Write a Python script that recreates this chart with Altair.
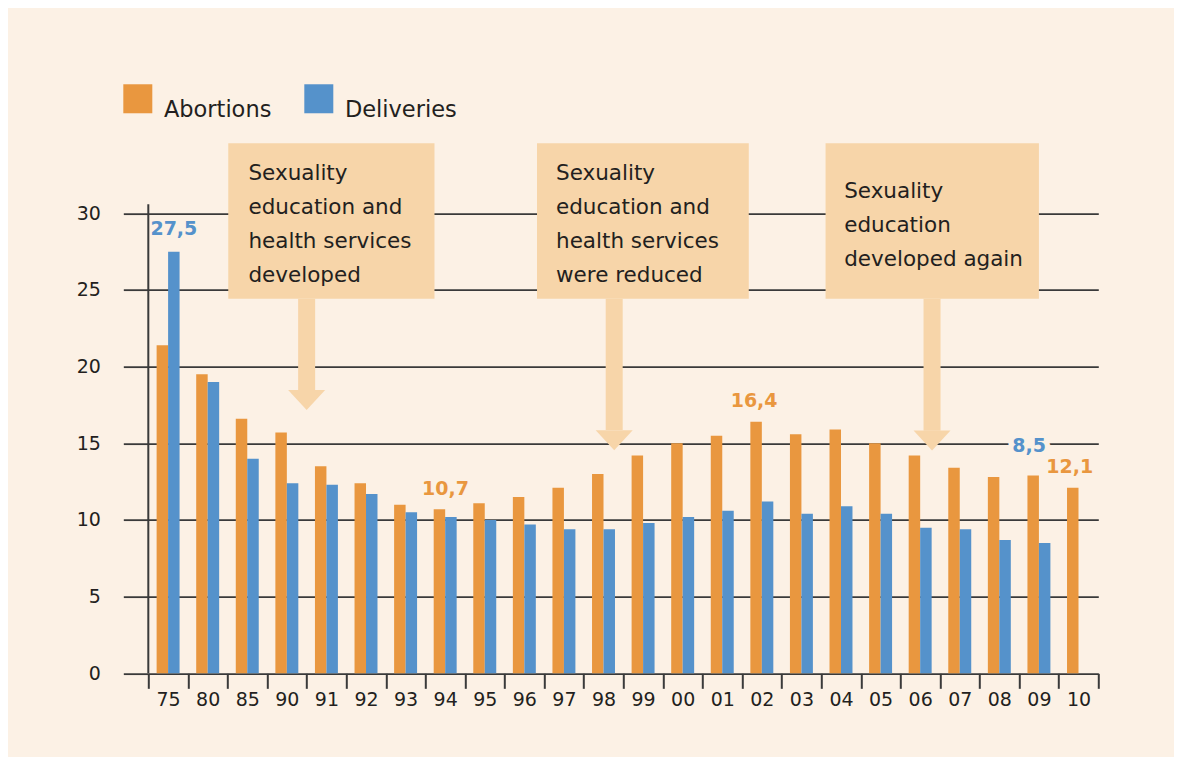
import altair as alt
import pandas as pd

# ---------------- data ----------------
years = ["75", "80", "85", "90", "91", "92", "93", "94", "95", "96", "97", "98",
         "99", "00", "01", "02", "03", "04", "05", "06", "07", "08", "09", "10"]
abortions = [21.4, 19.5, 16.6, 15.7, 13.5, 12.4, 11.0, 10.7, 11.1, 11.5, 12.1, 13.0,
             14.2, 15.0, 15.5, 16.4, 15.6, 15.9, 15.0, 14.2, 13.4, 12.8, 12.9, 12.1]
deliveries = [27.5, 19.0, 14.0, 12.4, 12.3, 11.7, 10.5, 10.2, 10.0, 9.7, 9.4, 9.4,
              9.8, 10.2, 10.6, 11.2, 10.4, 10.9, 10.4, 9.5, 9.4, 8.7, 8.5, None]
series_names = ["Abortions", "Deliveries"]
series_colors = ["#E9973F", "#5592CB"]
y_ticks = [0, 5, 10, 15, 20, 25, 30]

value_labels = ["27,5", "10,7", "16,4", "8,5", "12,1"]
label_years = ["75", "94", "02", "09", "10"]
label_series = ["Deliveries", "Abortions", "Abortions", "Deliveries", "Abortions"]

box_texts = [
    ["Sexuality", "education and", "health services", "developed"],
    ["Sexuality", "education and", "health services", "were reduced"],
    ["Sexuality", "education", "developed again"],
]

rows = []
for yr, a, d in zip(years, abortions, deliveries):
    rows.append({"year": yr, "series": "Abortions", "value": a})
    if d is not None:
        rows.append({"year": yr, "series": "Deliveries", "value": d})
df = pd.DataFrame(rows)

# ---------------- style ----------------
BG = "#FCF1E5"
INK = "#231F20"
GRID = "#3A3A3A"
BOX = "#F7D5A9"
FONT = "DejaVu Sans"

PLOT_W = 958.4
BAND_W = 950
PLOT_H = 536.67

yscale = alt.Scale(domain=[0, 35], nice=False, zero=True)
xscale = alt.Scale(domain=years, range=[0, BAND_W], paddingInner=0, paddingOuter=0)
xoff_scale = alt.Scale(domain=series_names, paddingInner=0, paddingOuter=0.724)
qx = alt.Scale(domain=[0, 24], range=[0, BAND_W], nice=False, zero=False)

one = pd.DataFrame({"k": [0]})

# ---------------- bars ----------------
bars = alt.Chart(df).mark_bar().encode(
    x=alt.X("year:N", scale=xscale, sort=years,
            axis=alt.Axis(title=None, labelAngle=0, tickBand="extent", tickSize=15,
                          tickColor=GRID, tickWidth=2, domain=False, grid=False,
                          labelFontSize=19, labelFont=FONT, labelColor=INK,
                          labelPadding=2)),
    xOffset=alt.XOffset("series:N", scale=xoff_scale, sort=series_names),
    y=alt.Y("value:Q", scale=yscale,
            axis=alt.Axis(title=None, values=y_ticks, grid=True, gridColor=GRID,
                          gridWidth=1.8, tickSize=25, tickColor=GRID, tickWidth=1.8,
                          domain=False, labelPadding=23, labelFontSize=19,
                          labelFont=FONT, labelColor=INK)),
    color=alt.Color("series:N", sort=series_names,
                    scale=alt.Scale(domain=series_names, range=series_colors),
                    legend=alt.Legend(orient="none", legendX=-25, legendY=-52.4,
                                      direction="horizontal", title=None,
                                      symbolType="square", symbolSize=841,
                                      symbolStrokeWidth=0, symbolOpacity=1,
                                      labelFontSize=22.5, labelFont=FONT,
                                      labelColor=INK, labelOffset=11.6,
                                      labelBaseline="top",
                                      columnPadding=32, padding=0)),
)

# value labels: (anchor y in data units, dx in px)
label_place = [(29.0, 0), (12.0, 6), (17.78, -2), (14.85, -15.5), (13.44, -3)]
label_layers = []
for txt, yr, ser, (ypos, dx) in zip(value_labels, label_years, label_series, label_place):
    ldf = pd.DataFrame({"year": [yr], "series": [ser], "label": [txt]})
    col = series_colors[series_names.index(ser)]
    enc = dict(
        x=alt.X("year:N", scale=xscale, sort=years),
        xOffset=alt.XOffset("series:N", scale=xoff_scale, sort=series_names),
        y=alt.YDatum(ypos, scale=yscale),
        text="label:N",
    )
    halo = alt.Chart(ldf).mark_text(font=FONT, fontSize=19, fontWeight="bold",
                                    fill=BG, stroke=BG, strokeWidth=11,
                                    strokeJoin="round", baseline="middle",
                                    align="center", dx=dx).encode(**enc)
    txtl = alt.Chart(ldf).mark_text(font=FONT, fontSize=19, fontWeight="bold",
                                    color=col, baseline="middle", align="center",
                                    dx=dx).encode(**enc)
    label_layers += [halo, txtl]

bar_group = alt.layer(bars, *label_layers)

# ---------------- annotations (continuous x in band units) ----------------
box_place = [(2.02, 7.23), (9.82, 15.17), (17.11, 22.50)]
box_top, box_bottom = 34.57, 24.43
text_place = [(2.53, 32.17), (10.30, 32.17), (17.58, 30.98)]
arrow_place = [(4.00, 18.48, 17.83), (11.77, 15.87, 15.20), (19.80, 15.82, 15.19)]
head_path = "M-1,-0.54L1,-0.54L0,0.54Z"

annot_layers = []
for (x1, x2), lines, (tx, ty), (ax, hs, hc) in zip(box_place, box_texts, text_place, arrow_place):
    annot_layers.append(
        alt.Chart(one).mark_rect(color=BOX, opacity=1).encode(
            x=alt.XDatum(x1, scale=qx, axis=None), x2=alt.datum(x2),
            y=alt.YDatum(box_top, scale=yscale), y2=alt.datum(box_bottom))
    )
    annot_layers.append(
        alt.Chart(one).mark_text(font=FONT, fontSize=21.5, color=INK, align="left",
                                 baseline="alphabetic", lineHeight=34).encode(
            x=alt.XDatum(tx, scale=qx, axis=None),
            y=alt.YDatum(ty, scale=yscale),
            text=alt.value(lines))
    )
    annot_layers.append(
        alt.Chart(one).mark_rule(color=BOX, strokeWidth=17, opacity=1).encode(
            x=alt.XDatum(ax, scale=qx, axis=None),
            y=alt.YDatum(box_bottom, scale=yscale), y2=alt.datum(hs))
    )
    annot_layers.append(
        alt.Chart(one).mark_point(shape=head_path, filled=True, size=1369, color=BOX,
                                  opacity=1, strokeWidth=0).encode(
            x=alt.XDatum(ax, scale=qx, axis=None),
            y=alt.YDatum(hc, scale=yscale))
    )

# vertical axis line
annot_layers.append(
    alt.Chart(one).mark_rule(color=GRID, strokeWidth=2).encode(
        x=alt.XDatum(0, scale=qx, axis=None),
        y=alt.YDatum(30.6, scale=yscale), y2=alt.datum(0))
)

annot_group = alt.layer(*annot_layers)

chart = alt.layer(bar_group, annot_group).resolve_scale(x="independent").properties(
    width=PLOT_W, height=PLOT_H,
    autosize=alt.AutoSizeParams(type="none"),
    padding={"left": 140.3, "top": 128.67, "right": 67.3, "bottom": 84},
    background=BG,
).configure_view(stroke=None)

chart.save("out.html", embed_options={"renderer": "svg", "actions": False})
